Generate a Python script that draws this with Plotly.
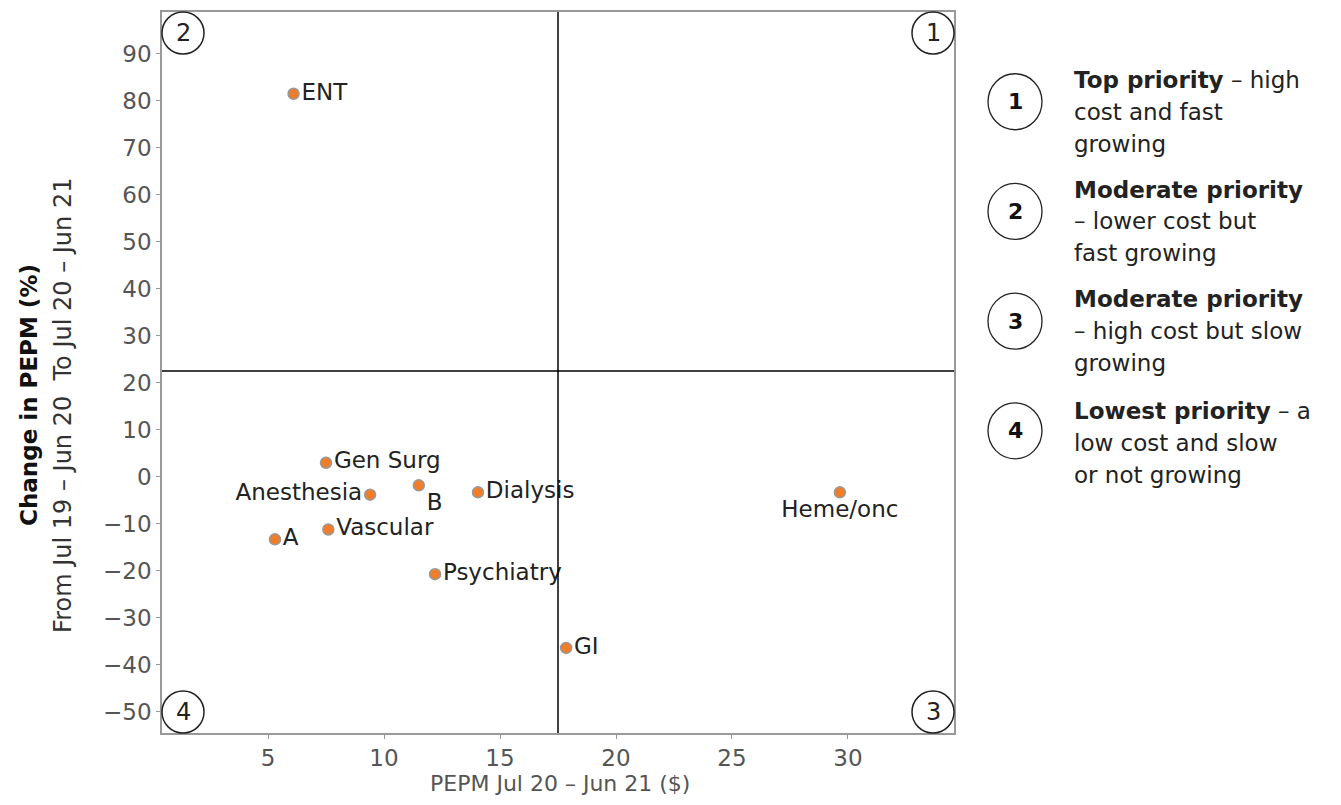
import plotly.graph_objects as go

# ---- data ----
categories = ["ENT", "Gen Surg", "Anesthesia", "B", "Dialysis", "Vascular", "A",
              "Psychiatry", "GI", "Heme/onc"]
pepm = [6.1, 7.5, 9.4, 11.5, 14.05, 7.6, 5.3, 12.2, 17.85, 29.65]
change_pct = [81.5, 3.0, -3.8, -1.8, -3.3, -11.2, -13.3, -20.7, -36.4, -3.3]
label_pos = ["middle right", "middle right", "middle left", "bottom right", "middle right",
             "middle right", "middle right", "middle right", "middle right", "bottom center"]
x_split = 17.5
y_split = 22.5
x_ticks = [5, 10, 15, 20, 25, 30]
y_ticks = [90, 80, 70, 60, 50, 40, 30, 20, 10, 0, -10, -20, -30, -40, -50]
quadrant_nums = ["1", "2", "3", "4"]
legend_lines = [
    ["<b>Top priority</b> – high", "cost and fast", "growing"],
    ["<b>Moderate priority</b>", "– lower cost but", "fast growing"],
    ["<b>Moderate priority</b>", "– high cost but slow", "growing"],
    ["<b>Lowest priority</b> – a", "low cost and slow", "or not growing"],
]

OFF = 8  # page body margin
W, H = 1341 - 2 * OFF, 805 - 2 * OFF
PW, PH = 792, 723
L, T = 162 - OFF, 10 - OFF
R, B = W - L - PW, H - T - PH
FONT = "DejaVu Sans"


def px(xp):  # reference screen pixel -> paper
    return (xp - OFF - L) / PW


def py(yp):
    return (H - B - (yp - OFF)) / PH


fig = go.Figure()
fig.add_trace(go.Scatter(
    x=pepm, y=change_pct, mode="markers+text", text=categories,
    textposition=label_pos,
    textfont=dict(family=FONT, size=23, color="#222"),
    marker=dict(size=11, color="#F07D2A", line=dict(color="#999", width=1.5)),
    hoverinfo="skip", showlegend=False, cliponaxis=False,
))

shapes = [
    dict(type="line", xref="x", yref="paper", x0=x_split, x1=x_split, y0=0, y1=1,
         line=dict(color="black", width=1.5)),
    dict(type="line", xref="paper", yref="y", x0=0, x1=1, y0=y_split, y1=y_split,
         line=dict(color="black", width=1.5)),
]
annotations = []

# corner circles: 1 top-right, 2 top-left, 3 bottom-right, 4 bottom-left
corners = {"1": (1, 1), "2": (0, 1), "3": (1, 0), "4": (0, 0)}
r = 21
for num in quadrant_nums:
    cx, cy = corners[num]
    dx = r if cx == 0 else -r
    dy = -r if cy == 1 else r
    shapes.append(dict(type="circle", xref="paper", yref="paper",
                       xsizemode="pixel", ysizemode="pixel",
                       xanchor=cx, yanchor=cy,
                       x0=dx - r, x1=dx + r, y0=dy - r, y1=dy + r,
                       line=dict(color="#222", width=1.5)))
    annotations.append(dict(xref="paper", yref="paper", x=cx, y=cy, xshift=dx, yshift=dy,
                            xanchor="center", yanchor="middle",
                            text=num, showarrow=False,
                            font=dict(family=FONT, size=24, color="#222")))

# right-side legend
circ_y = [100, 210, 320, 430]
line_y0 = [78, 188, 298, 410]
R2 = 27
for i, num in enumerate(quadrant_nums):
    shapes.append(dict(type="circle", xref="paper", yref="paper",
                       xsizemode="pixel", ysizemode="pixel",
                       xanchor=px(1015), yanchor=py(circ_y[i]),
                       x0=-R2, x1=R2, y0=-R2 - 1, y1=R2 + 1,
                       line=dict(color="#222", width=1.3)))
    annotations.append(dict(xref="paper", yref="paper", x=px(1015), y=py(circ_y[i]),
                            xanchor="center", yanchor="middle",
                            text="<b>" + num + "</b>", showarrow=False,
                            font=dict(family=FONT, size=22, color="#111")))
    for j, ln in enumerate(legend_lines[i]):
        annotations.append(dict(xref="paper", yref="paper", x=px(1072), y=py(line_y0[i] + 32 * j),
                                xanchor="left", yanchor="middle", text=ln, showarrow=False,
                                font=dict(family=FONT, size=23, color="#222")))

# axis titles
annotations.append(dict(xref="paper", yref="paper", x=px(29), y=py(394), textangle=-90,
                        xanchor="center", yanchor="middle",
                        text="<b>Change in PEPM (%)</b>", showarrow=False,
                        font=dict(family=FONT, size=23, color="#111")))
annotations.append(dict(xref="paper", yref="paper", x=px(63), y=py(405), textangle=-90,
                        xanchor="center", yanchor="middle",
                        text="From Jul 19 – Jun 20  To Jul 20 – Jun 21", showarrow=False,
                        font=dict(family=FONT, size=24, color="#333")))
annotations.append(dict(xref="paper", yref="paper", x=px(560), y=py(784),
                        xanchor="center", yanchor="middle",
                        text="PEPM Jul 20 – Jun 21 ($)", showarrow=False,
                        font=dict(family=FONT, size=22, color="#555")))

fig.update_layout(
    width=W, height=H, margin=dict(l=L, r=R, t=T, b=B),
    plot_bgcolor="white", paper_bgcolor="white",
    shapes=shapes, annotations=annotations,
    font=dict(family=FONT),
)
axis_common = dict(showgrid=False, zeroline=False, showline=True, mirror=True,
                   linecolor="#999", linewidth=1.5, ticks="outside", ticklen=4,
                   tickcolor="#999", tickfont=dict(family=FONT, size=23, color="#555"))
fig.update_xaxes(range=[0.43, 34.57], tickvals=x_ticks, **axis_common)
fig.update_yaxes(range=[-54.5, 98.9], tickvals=y_ticks, tickformat="d", **axis_common)

fig.write_html("out.html")
